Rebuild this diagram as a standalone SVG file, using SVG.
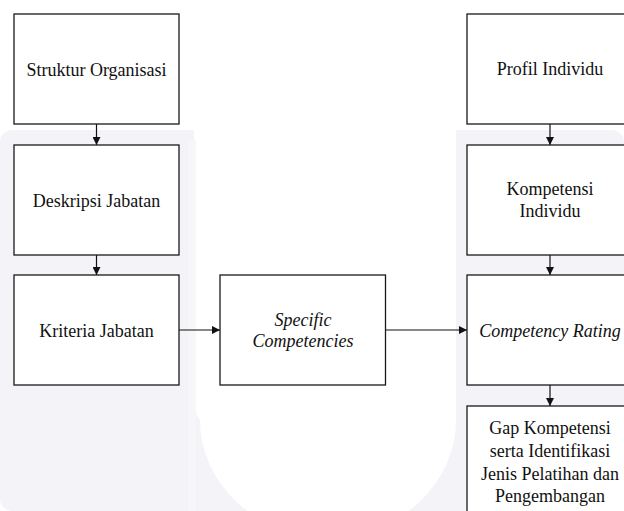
<svg xmlns="http://www.w3.org/2000/svg" width="624" height="511" viewBox="0 0 624 511">
<style>
.box{fill:#ffffff;stroke:#1a1a1a;stroke-width:1.3}
.t{font-family:"Liberation Serif","Times New Roman",serif;font-size:18px;fill:#111;text-anchor:middle}
.i{font-style:italic}
.c{stroke:#111;stroke-width:1.2;fill:none}
</style>
<defs>
<marker id="ah" viewBox="0 0 10 10" refX="10" refY="5" markerWidth="8" markerHeight="8" markerUnits="userSpaceOnUse" orient="auto">
<path d="M0,0 L10,5 L0,10 z" fill="#111"/>
</marker>
</defs>
<g id="background">
<rect x="0" y="0" width="624" height="511" fill="#ffffff"/>
<rect x="0" y="130" width="624" height="381" rx="12" fill="#f4f4f8"/>
<path d="M194,120 L456,120 L456,420 A128,117 0 0 1 200,420 L194,410 z" fill="#ffffff"/>
<rect x="188" y="140" width="8" height="371" fill="#f7f7fa"/>
</g>
<g id="connectors">
<line class="c" x1="96.5" y1="124" x2="96.5" y2="145" marker-end="url(#ah)"/>
<line class="c" x1="96.5" y1="255" x2="96.5" y2="275" marker-end="url(#ah)"/>
<line class="c" x1="179" y1="330" x2="220" y2="330" marker-end="url(#ah)"/>
<line class="c" x1="386" y1="330" x2="467" y2="330" marker-end="url(#ah)"/>
<line class="c" x1="550" y1="124" x2="550" y2="145" marker-end="url(#ah)"/>
<line class="c" x1="550" y1="255" x2="550" y2="275" marker-end="url(#ah)"/>
<line class="c" x1="550" y1="385" x2="550" y2="406" marker-end="url(#ah)"/>
</g>
<g id="struktur-organisasi">
<rect class="box" x="14" y="14" width="165" height="110"/>
<text class="t" x="96.5" y="75.5">Struktur Organisasi</text>
</g>
<g id="deskripsi-jabatan">
<rect class="box" x="14" y="145" width="165" height="110"/>
<text class="t" x="96.5" y="206.5">Deskripsi Jabatan</text>
</g>
<g id="kriteria-jabatan">
<rect class="box" x="14" y="275" width="165" height="110"/>
<text class="t" x="96.5" y="336.5">Kriteria Jabatan</text>
</g>
<g id="specific-competencies">
<rect class="box" x="220" y="275" width="165.5" height="110"/>
<text class="t i" x="303" y="325.7">Specific</text>
<text class="t i" x="303" y="347.3">Competencies</text>
</g>
<g id="profil-individu">
<rect class="box" x="467" y="14" width="165" height="110"/>
<text class="t" x="550" y="74.5">Profil Individu</text>
</g>
<g id="kompetensi-individu">
<rect class="box" x="467" y="145" width="165" height="110"/>
<text class="t" x="550" y="195">Kompetensi</text>
<text class="t" x="550" y="216.7">Individu</text>
</g>
<g id="competency-rating">
<rect class="box" x="467" y="275" width="165" height="110"/>
<text class="t i" x="550" y="336.5">Competency Rating</text>
</g>
<g id="gap-kompetensi">
<rect class="box" x="467" y="406" width="165" height="130"/>
<text class="t" x="550" y="434.3">Gap Kompetensi</text>
<text class="t" x="550" y="457">serta Identifikasi</text>
<text class="t" x="550" y="479.5">Jenis Pelatihan dan</text>
<text class="t" x="550" y="501.5">Pengembangan</text>
</g>
</svg>
